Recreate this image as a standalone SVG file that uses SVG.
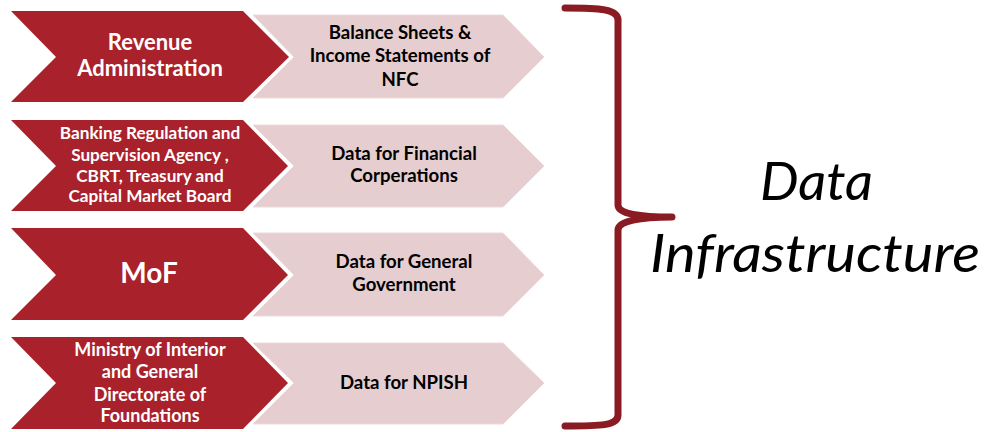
<svg xmlns="http://www.w3.org/2000/svg" width="987" height="432" viewBox="0 0 987 432">
<defs>
<style>
.red{fill:#A9212B}
.pink{fill:#E6CED0;stroke:#EBD9DA;stroke-width:1}
.wt{font-family:Lato,"Open Sans","Liberation Sans",sans-serif;font-weight:bold;fill:#FFFFFF;text-anchor:middle}
.bt{font-family:Lato,"Open Sans","Liberation Sans",sans-serif;font-weight:bold;fill:#000000;text-anchor:middle;font-size:18.6px}
.big{font-family:Lato,"Open Sans","Noto Sans",sans-serif;font-style:italic;fill:#000000;font-size:52px}
</style>
</defs>
<rect width="987" height="432" fill="#FFFFFF"/>

<g id="row1">
<polygon class="pink" points="253,15 503,15 544,57 503,98 253,98 294,57"/>
<polygon class="red" points="11,11 243,11 289,57 243,102 11,102 56,57"/>
<text class="wt" font-size="22" x="150" y="50">Revenue</text>
<text class="wt" font-size="22" x="150" y="76">Administration</text>
<text class="bt" x="400" y="39">Balance Sheets &amp;</text>
<text class="bt" x="400" y="62">Income Statements of</text>
<text class="bt" x="400" y="86">NFC</text>
</g>

<g id="row2">
<polygon class="pink" points="253,125 503,125 544,166 503,207 253,207 294,166"/>
<polygon class="red" points="11,120 243,120 288,166 243,211 11,211 56,166"/>
<text class="wt" font-size="17.2" x="150" y="139">Banking Regulation and</text>
<text class="wt" font-size="17.2" x="150" y="161">Supervision Agency ,</text>
<text class="wt" font-size="17.2" x="150" y="182">CBRT, Treasury and</text>
<text class="wt" font-size="17.2" x="150" y="202">Capital Market Board</text>
<text class="bt" x="404" y="160">Data for Financial</text>
<text class="bt" x="404" y="182">Corperations</text>
</g>

<g id="row3">
<polygon class="pink" points="253,233 503,233 544,275 503,316 253,316 294,275"/>
<polygon class="red" points="11,228 243,228 288,275 243,320 11,320 56,275"/>
<text class="wt" font-size="28" x="149" y="283">MoF</text>
<text class="bt" x="404" y="268">Data for General</text>
<text class="bt" x="404" y="291">Government</text>
</g>

<g id="row4">
<polygon class="pink" points="253,343 503,343 544,383 503,424 253,424 294,383"/>
<polygon class="red" points="11,337 243,337 288,383 243,429 11,429 56,383"/>
<text class="wt" font-size="18" x="150" y="356">Ministry of Interior</text>
<text class="wt" font-size="18" x="150" y="378">and General</text>
<text class="wt" font-size="18" x="150" y="401">Directorate of</text>
<text class="wt" font-size="18" x="150" y="422">Foundations</text>
<text class="bt" x="404" y="389">Data for NPISH</text>
</g>

<g id="connectors">
<path d="M565,8 C600,8 618,9 618,20 L618,205 C618,214 640,217 672,217 C640,217 618,221 618,230 L618,415 C618,426 600,426 565,426" fill="none" stroke="#8A1B22" stroke-width="7" stroke-linecap="round" stroke-linejoin="round"/>
</g>

<g id="title">
<text class="big" x="760" y="200" textLength="113" lengthAdjust="spacingAndGlyphs">Data</text>
<text class="big" x="650" y="272" textLength="330" lengthAdjust="spacingAndGlyphs">Infrastructure</text>
</g>
</svg>
